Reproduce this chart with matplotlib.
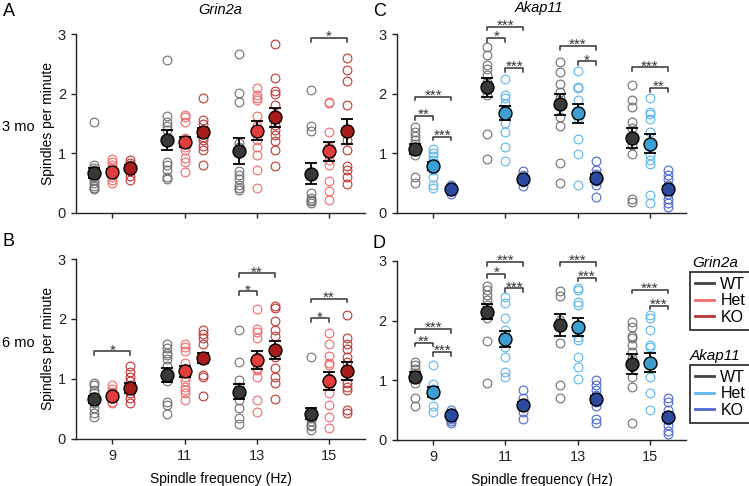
import matplotlib
matplotlib.use("Agg")
import matplotlib.pyplot as plt
from matplotlib.lines import Line2D

plt.rcParams['font.family'] = ['Liberation Sans', 'DejaVu Sans']
plt.rcParams['font.size'] = 10

freqs = [9, 11, 13, 15]

# individual animals, one list per frequency (9, 11, 13, 15 Hz)
grin_3mo_wt = [[1.53, 0.80, 0.76, 0.72, 0.65, 0.60, 0.55, 0.50, 0.45, 0.42, 0.40],
               [2.57, 1.63, 1.53, 1.46, 1.39, 0.86, 0.80, 0.72, 0.61, 0.56],
               [2.67, 2.01, 1.86, 1.17, 1.11, 0.70, 0.64, 0.56, 0.47, 0.42, 0.39],
               [2.06, 1.45, 1.38, 0.33, 0.25, 0.22, 0.20, 0.17]]
grin_3mo_het = [[0.90, 0.86, 0.80, 0.75, 0.70, 0.65, 0.60, 0.55, 0.50],
                [1.64, 1.60, 1.52, 1.25, 1.17, 1.10, 1.06, 0.92, 0.86, 0.69],
                [2.09, 1.98, 1.92, 1.89, 1.62, 1.45, 1.22, 1.11, 0.97, 0.72, 0.42],
                [1.86, 1.84, 1.36, 1.11, 0.97, 0.89, 0.81, 0.53, 0.36, 0.22]]
grin_3mo_ko = [[0.88, 0.84, 0.80, 0.75, 0.70, 0.62, 0.55],
               [1.92, 1.55, 1.49, 1.36, 1.28, 1.22, 1.12, 1.06, 0.80],
               [2.83, 2.26, 2.05, 1.99, 1.81, 1.61, 1.47, 1.39, 1.31, 1.20, 1.06, 0.78],
               [2.60, 2.39, 2.21, 1.81, 1.36, 1.22, 1.06, 0.78, 0.72, 0.61, 0.49]]

grin_6mo_wt = [[0.93, 0.90, 0.82, 0.76, 0.70, 0.65, 0.60, 0.51, 0.43, 0.36],
               [1.59, 1.51, 1.44, 1.40, 1.34, 1.21, 0.96, 0.62, 0.57, 0.42],
               [1.82, 1.28, 0.98, 0.87, 0.65, 0.51, 0.34, 0.24],
               [1.37, 0.43, 0.34, 0.29, 0.23, 0.21, 0.15]]
grin_6mo_het = [[0.90, 0.84, 0.79, 0.73, 0.68, 0.62, 0.60],
                [1.59, 1.54, 1.46, 1.26, 1.18, 1.04, 0.96, 0.87, 0.82, 0.76, 0.65],
                [2.17, 1.84, 1.79, 1.69, 1.37, 1.19, 1.15, 1.04, 0.65, 0.44],
                [1.76, 1.59, 1.38, 1.26, 1.23, 1.01, 0.90, 0.76, 0.57, 0.37, 0.18]]
grin_6mo_ko = [[1.22, 1.12, 1.04, 0.96, 0.90, 0.84, 0.76, 0.68, 0.59],
               [1.82, 1.75, 1.68, 1.59, 1.37, 1.07, 1.04, 0.72],
               [2.22, 2.18, 1.96, 1.82, 1.71, 1.37, 1.18, 1.04, 0.93, 0.66],
               [2.07, 1.68, 1.59, 1.50, 1.37, 1.29, 0.93, 0.87, 0.82, 0.48, 0.43]]

akap_3mo_wt = [[1.44, 1.36, 1.29, 1.22, 1.16, 1.05, 0.97, 0.61, 0.50],
               [2.78, 2.64, 2.48, 2.42, 2.31, 2.20, 2.06, 1.98, 1.32, 0.91],
               [2.53, 2.37, 2.17, 2.03, 1.92, 1.61, 1.46, 0.83, 0.50],
               [2.14, 1.90, 1.77, 1.53, 1.42, 1.14, 0.99, 0.23, 0.19]]
akap_3mo_het = [[1.07, 1.00, 0.95, 0.89, 0.83, 0.78, 0.72, 0.61, 0.47, 0.42],
                [2.24, 1.98, 1.92, 1.83, 1.73, 1.50, 1.36, 1.11, 0.87],
                [2.38, 2.11, 2.09, 1.89, 1.59, 1.24, 0.98, 0.47],
                [1.92, 1.70, 1.66, 1.57, 1.36, 0.97, 0.88, 0.82, 0.30, 0.16]]
akap_3mo_ko = [[0.47, 0.44, 0.42, 0.39, 0.36, 0.31],
               [0.70, 0.64, 0.58, 0.56, 0.52, 0.45],
               [0.87, 0.72, 0.66, 0.61, 0.53, 0.47, 0.27],
               [0.72, 0.64, 0.56, 0.47, 0.39, 0.31, 0.24, 0.17, 0.10]]

akap_6mo_wt = [[1.31, 1.25, 1.18, 1.12, 1.03, 0.95, 0.70, 0.57],
               [2.58, 2.51, 2.43, 2.34, 2.26, 2.12, 2.04, 1.65, 0.96],
               [2.50, 2.41, 2.01, 1.95, 1.62, 0.92, 0.70],
               [1.98, 1.89, 1.74, 1.70, 1.59, 1.48, 1.37, 1.23, 1.06, 0.89, 0.29]]
akap_6mo_het = [[1.25, 0.94, 0.86, 0.81, 0.75, 0.56, 0.46],
                [2.40, 2.30, 2.05, 1.85, 1.78, 1.55, 1.39, 1.13, 1.06],
                [2.55, 2.51, 2.31, 2.26, 1.84, 1.73, 1.67, 1.39, 1.23, 1.02],
                [2.10, 2.05, 1.85, 1.59, 1.56, 1.28, 1.06, 0.78, 0.50]]
akap_6mo_ko = [[0.50, 0.45, 0.39, 0.35, 0.31, 0.28],
               [0.84, 0.70, 0.59, 0.47, 0.35],
               [1.00, 0.92, 0.84, 0.75, 0.64, 0.56, 0.35, 0.28],
               [0.70, 0.64, 0.50, 0.42, 0.33, 0.25, 0.14, 0.10]]

# group means and SEM, rows WT / Het / KO
grin_3mo_mean = [[0.67, 1.22, 1.04, 0.66], [0.69, 1.19, 1.38, 1.03], [0.75, 1.35, 1.60, 1.37]]
grin_3mo_sem = [[0.08, 0.17, 0.22, 0.18], [0.04, 0.09, 0.16, 0.16], [0.05, 0.08, 0.16, 0.21]]
grin_6mo_mean = [[0.66, 1.07, 0.79, 0.42], [0.71, 1.13, 1.32, 0.97], [0.85, 1.35, 1.49, 1.14]]
grin_6mo_sem = [[0.06, 0.12, 0.13, 0.09], [0.04, 0.09, 0.15, 0.15], [0.08, 0.08, 0.15, 0.15]]
akap_3mo_mean = [[1.07, 2.11, 1.82, 1.26], [0.79, 1.67, 1.67, 1.16], [0.40, 0.56, 0.59, 0.40]]
akap_3mo_sem = [[0.09, 0.16, 0.18, 0.17], [0.07, 0.12, 0.16, 0.16], [0.03, 0.04, 0.07, 0.05]]
akap_6mo_mean = [[1.06, 2.15, 1.93, 1.27], [0.80, 1.69, 1.90, 1.29], [0.41, 0.59, 0.68, 0.39]]
akap_6mo_sem = [[0.08, 0.13, 0.18, 0.17], [0.08, 0.13, 0.15, 0.16], [0.04, 0.04, 0.06, 0.05]]

# significance brackets: (frequency, group a, group b, height, label)
grin_3mo_sig = [(15, 0, 2, 2.93, '*')]
grin_6mo_sig = [(9, 0, 2, 1.46, '*'), (13, 0, 1, 2.46, '*'), (13, 0, 2, 2.76, '**'),
                (15, 0, 1, 2.01, '*'), (15, 0, 2, 2.34, '**')]
akap_3mo_sig = [(9, 0, 1, 1.62, '**'), (9, 1, 2, 1.28, '***'), (9, 0, 2, 1.95, '***'),
                (11, 0, 1, 2.93, '*'), (11, 1, 2, 2.43, '***'), (11, 0, 2, 3.12, '***'),
                (13, 0, 2, 2.80, '***'), (13, 1, 2, 2.54, '*'),
                (15, 0, 2, 2.44, '***'), (15, 1, 2, 2.09, '**')]
akap_6mo_sig = [(9, 0, 1, 1.63, '**'), (9, 1, 2, 1.47, '***'), (9, 0, 2, 1.86, '***'),
                (11, 0, 1, 2.78, '*'), (11, 1, 2, 2.54, '***'), (11, 0, 2, 2.98, '***'),
                (13, 0, 2, 2.98, '***'), (13, 1, 2, 2.72, '***'),
                (15, 0, 2, 2.52, '***'), (15, 1, 2, 2.25, '***')]

labels = ['WT', 'Het', 'KO']
grin_open = ['#6e6e6e', '#f06a6a', '#c03434']
grin_fill = ['#383838', '#e23c3c', '#a81c1c']
akap_open = ['#6e6e6e', '#5cb6ea', '#4c66cc']
akap_fill = ['#383838', '#3b9fd2', '#2c4a9e']
offsets = [-0.5, 0.0, 0.5]


def draw_panel(ax, groups, means, sems, sigs, open_cols, fill_cols, xlabels):
    for g in range(3):
        for i, f in enumerate(freqs):
            vals = groups[g][i]
            ax.plot([f + offsets[g]] * len(vals), vals, 'o', ms=6.3, mfc='none',
                    mec=open_cols[g], mew=0.8, clip_on=False, zorder=2)
        xs = [f + offsets[g] for f in freqs]
        ax.errorbar(xs, means[g], yerr=sems[g], fmt='none', ecolor='black',
                    elinewidth=1.3, capsize=4, capthick=1.3, zorder=3, clip_on=False)
        ax.plot(xs, means[g], 'o', ms=9.3, mfc=fill_cols[g], mec='black', mew=1.0,
                zorder=4, clip_on=False)
    for f, a, b, y, txt in sigs:
        x1, x2 = f + offsets[a], f + offsets[b]
        ax.plot([x1, x1, x2, x2], [y - 0.06, y, y, y - 0.06], color='#333333',
                lw=1.1, clip_on=False)
        ax.text((x1 + x2) / 2, y - 0.05, txt, ha='center', va='baseline',
                fontsize=11, color='#333333', clip_on=False)
    ax.set_xlim(8, 16)
    ax.set_ylim(0, 3)
    ax.set_xticks(freqs)
    ax.set_yticks([0, 1, 2, 3])
    if xlabels:
        ax.set_xticklabels([str(f) for f in freqs])
        ax.set_xlabel('Spindle frequency (Hz)', fontsize=10, labelpad=6)
    else:
        ax.set_xticklabels([])
    for s in ['top', 'right']:
        ax.spines[s].set_visible(False)
    for s in ['left', 'bottom']:
        ax.spines[s].set_linewidth(1.0)
        ax.spines[s].set_color('#222222')
    ax.tick_params(direction='out', length=3.5, width=1.0, labelsize=10.5,
                   colors='#222222', pad=4)


fig = plt.figure(figsize=(7.49, 4.86), dpi=100)
axA = fig.add_axes([0.102, 0.562, 0.385, 0.368])
axB = fig.add_axes([0.102, 0.097, 0.385, 0.370])
axC = fig.add_axes([0.530, 0.562, 0.386, 0.368])
axD = fig.add_axes([0.530, 0.095, 0.386, 0.368])

draw_panel(axA, [grin_3mo_wt, grin_3mo_het, grin_3mo_ko], grin_3mo_mean, grin_3mo_sem,
           grin_3mo_sig, grin_open, grin_fill, False)
draw_panel(axB, [grin_6mo_wt, grin_6mo_het, grin_6mo_ko], grin_6mo_mean, grin_6mo_sem,
           grin_6mo_sig, grin_open, grin_fill, True)
draw_panel(axC, [akap_3mo_wt, akap_3mo_het, akap_3mo_ko], akap_3mo_mean, akap_3mo_sem,
           akap_3mo_sig, akap_open, akap_fill, False)
draw_panel(axD, [akap_6mo_wt, akap_6mo_het, akap_6mo_ko], akap_6mo_mean, akap_6mo_sem,
           akap_6mo_sig, akap_open, akap_fill, True)

for ax in (axA, axB):
    ax.set_ylabel('Spindles per minute', fontsize=10)
    ax.yaxis.set_label_coords(-0.073, 0.5)

fig.text(220 / 749, 1 - 10 / 486, 'Grin2a', fontsize=10.5, style='italic', ha='center', va='center')
fig.text(539 / 749, 1 - 8 / 486, 'Akap11', fontsize=10.5, style='italic', ha='center', va='center')

fig.text(0.003, 1 - 127 / 486, '3 mo', fontsize=10.5, va='center')
fig.text(0.003, 1 - 343 / 486, '6 mo', fontsize=10.5, va='center')
for letter, x, y in [('A', 3, 12), ('B', 3, 241), ('C', 373, 12), ('D', 373, 243)]:
    fig.text(x / 749, 1 - y / 486, letter, fontsize=13, va='center')

# legends
for name, cols, ty, ly in [('Grin2a', grin_open, 263, 272), ('Akap11', akap_open, 356, 365)]:
    fig.text(715 / 749, 1 - ty / 486, name, fontsize=11, style='italic', ha='center', va='center')
    handles = [Line2D([0], [0], color=['#444444', cols[1], cols[2]][k], lw=2) for k in range(3)]
    leg = fig.legend(handles, labels, loc='upper left', bbox_to_anchor=(690 / 749, 1 - ly / 486),
                     fontsize=11.5, handlelength=1.2, handletextpad=0.4, borderpad=0.3,
                     labelspacing=0.1, fancybox=False, framealpha=1, borderaxespad=0)
    leg.get_frame().set_edgecolor('#222222')
    leg.get_frame().set_linewidth(1.2)

fig.savefig('out.png', dpi=100)
